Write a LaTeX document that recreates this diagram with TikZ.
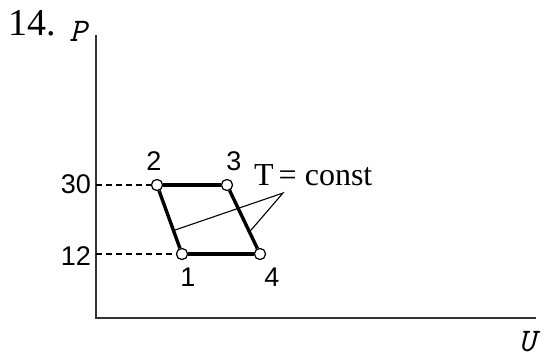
\documentclass[tikz,border=0pt]{standalone}
\usepackage{fontspec}
\usetikzlibrary{calc}
\setmainfont{Liberation Serif}
\newfontfamily\numfont{Liberation Sans}
\begin{document}
\begin{tikzpicture}[x=1pt,y=-1pt,
  axis/.style={line width=1.6pt,draw=black!80},
  cyc/.style={line width=3.4pt},
  thinl/.style={line width=1.1pt},
  dashl/.style={line width=1.1pt,dash pattern=on 6pt off 4pt},
  pt/.style={circle,draw,fill=white,line width=1.1pt,inner sep=0pt,minimum size=11pt},
  num/.style={font=\numfont\fontsize{27}{27}\selectfont,inner sep=0pt},
  lab/.style={font=\ttfamily\itshape\fontsize{33}{33}\selectfont,inner sep=0pt}]
\useasboundingbox (0,0) rectangle (549,360);
\coordinate (O) at (96,318);
\coordinate (Ytop) at (96,35);
\coordinate (Xend) at (536,318);
\draw[axis] (Ytop) -- (O) -- (Xend);
\node[font=\fontsize{38}{38}\selectfont,inner sep=0pt] (title) at (32,23) {14.};
\node[lab] (P) at (78,31) {P};
\node[lab] (U) at (527,342) {U};
\coordinate (a30) at (96,185);
\coordinate (a12) at (96,254);
\node[pt] (p2) at (157,185) {};
\node[pt] (p3) at (227,185) {};
\node[pt] (p1) at (182,254) {};
\node[pt] (p4) at (260,254) {};
\draw[dashl] (a30) -- (p2);
\draw[dashl] (a12) -- (p1);
\draw[cyc] (p2) -- (p3);
\draw[cyc] (p1) -- (p4);
\draw[cyc] (p2) -- (p1);
\draw[cyc] (p3) -- (p4);
\node[pt] at (p2) {};
\node[pt] at (p3) {};
\node[pt] at (p1) {};
\node[pt] at (p4) {};
\coordinate (tip) at (283,193);
\coordinate (m21) at ($(p2)!0.66!(p1)$);
\coordinate (m34) at ($(p3)!0.68!(p4)$);
\draw[thinl] (m21) -- (tip) -- (m34);
\node[num,anchor=east] (n30) at (91,184) {30};
\node[num,anchor=east] (n12) at (91,256) {12};
\node[num] (l2) at (154,161) {2};
\node[num] (l3) at (234,161) {3};
\node[num] (l1) at (188,277) {1};
\node[num] (l4) at (272,277) {4};
\node[font=\fontsize{32}{32}\selectfont,inner sep=0pt,anchor=base west] (tc) at (254,185) {T\hspace{5pt}=\hspace{8pt}const};
\end{tikzpicture}
\end{document}
